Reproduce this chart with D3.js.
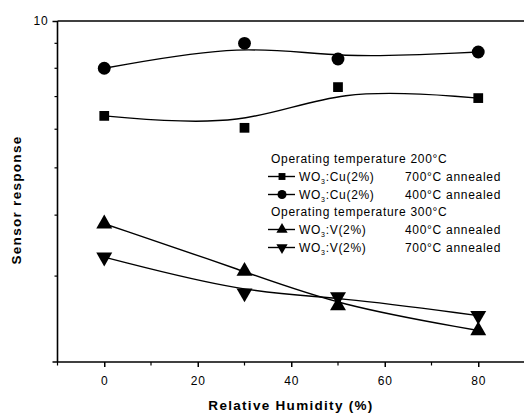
<!DOCTYPE html>
<html><head><meta charset="utf-8">
<script src="https://cdn.jsdelivr.net/npm/d3@7"></script>
<style>body{margin:0;background:#fff}svg{display:block}</style>
</head><body><svg id="c" width="524" height="413"></svg>
<script>
const humidity = [0, 30, 50, 80];
const cu700 = [6.39, 6.04, 7.32, 6.95];
const cu400 = [8.0, 9.0, 8.36, 8.64];
const v400 = [3.84, 3.07, 2.61, 2.32];
const v700 = [3.28, 2.77, 2.72, 2.49];
const xTicks = [0, 20, 40, 60, 80];
const xMinor = [-10, 10, 30, 50, 70, 90];
const yMinor = [3, 4, 5, 6, 7, 8, 9];

const svg = d3.select("#c");
const font = "'Liberation Sans', Arial, sans-serif";
const x = d3.scaleLinear().domain([-10, 90]).range([57.5, 525]);
const y = d3.scaleLog().domain([2, 10]).range([362, 21]);

// frame
svg.append("line").attr("x1", x(-10)).attr("x2", x(90)).attr("y1", y(10)).attr("y2", y(10)).attr("stroke", "#000").attr("stroke-width", 1.5);
svg.append("line").attr("x1", x(-10)).attr("x2", x(90)).attr("y1", y(2)).attr("y2", y(2)).attr("stroke", "#000").attr("stroke-width", 1.6);
svg.append("line").attr("x1", x(-10)).attr("x2", x(-10)).attr("y1", y(2)).attr("y2", y(10)).attr("stroke", "#000").attr("stroke-width", 1.6);

// x axis
const xa = svg.append("g").attr("transform", `translate(0,${y(2)})`)
  .call(d3.axisBottom(x).tickValues(xTicks).tickSize(5).tickSizeOuter(0).tickPadding(9));
xa.select(".domain").remove();
xa.selectAll("text").attr("font-family", font).attr("font-size", 12).attr("letter-spacing", 0.8).attr("fill", "#000");
xa.selectAll("line").attr("stroke-width", 1.5);
svg.append("g").selectAll("line").data(xMinor).join("line")
  .attr("x1", d => x(d)).attr("x2", d => x(d)).attr("y1", y(2)).attr("y2", y(2) + 3.5)
  .attr("stroke", "#000").attr("stroke-width", 1.2);

// y axis
const ya = svg.append("g").attr("transform", `translate(${x(-10)},0)`)
  .call(d3.axisLeft(y).tickValues([10]).tickFormat(d3.format("d")).tickSize(5).tickSizeOuter(0).tickPadding(4));
ya.select(".domain").remove();
ya.selectAll("text").attr("font-family", font).attr("font-size", 12).attr("letter-spacing", 0.8).attr("fill", "#000");
ya.selectAll("line").attr("stroke-width", 1.5);
svg.append("g").selectAll("line").data(yMinor).join("line")
  .attr("x1", x(-10) - 3).attr("x2", x(-10)).attr("y1", d => y(d)).attr("y2", d => y(d))
  .attr("stroke", "#000").attr("stroke-width", 1.2);
svg.append("line").attr("x1", x(-10) - 5).attr("x2", x(-10)).attr("y1", y(2)).attr("y2", y(2)).attr("stroke", "#000").attr("stroke-width", 1.5);

// titles
svg.append("text").attr("x", 291).attr("y", 410).attr("text-anchor", "middle")
  .attr("font-family", font).attr("font-weight", "bold").attr("font-size", 13.5).attr("letter-spacing", 1.3)
  .text("Relative Humidity (%)");
svg.append("text").attr("transform", `translate(21,200) rotate(-90)`).attr("text-anchor", "middle")
  .attr("font-family", font).attr("font-weight", "bold").attr("font-size", 13.5).attr("letter-spacing", 1.3)
  .text("Sensor response");

const series = [
  {vals: cu700, sym: d3.symbolSquare, size: 95, rot: 0},
  {vals: cu400, sym: d3.symbolCircle, size: 130, rot: 0},
  {vals: v400, sym: d3.symbolTriangle, size: 110, rot: 0},
  {vals: v700, sym: d3.symbolTriangle, size: 110, rot: 180}
];
series.forEach(s => {
  const pts = humidity.map((h, i) => [h, s.vals[i]]);
  svg.append("path").attr("d", d3.line().x(d => x(d[0])).y(d => y(d[1])).curve(d3.curveBasis)(pts))
    .attr("fill", "none").attr("stroke", "#000").attr("stroke-width", 1.4);
  svg.append("g").selectAll("path").data(pts).join("path")
    .attr("transform", d => `translate(${x(d[0])},${y(d[1])}) rotate(${s.rot})`)
    .attr("d", d3.symbol().type(s.sym).size(s.size)).attr("fill", "#000");
});

// legend
const lg = svg.append("g").attr("font-family", font).attr("font-size", 12).attr("letter-spacing", 0.7).attr("fill", "#000");
const rows = [
  {t: "head", label: "Operating temperature 200°C", yy: 163},
  {t: 0, mat: "Cu(2%)", ann: "700°C annealed", yy: 181},
  {t: 1, mat: "Cu(2%)", ann: "400°C annealed", yy: 199},
  {t: "head", label: "Operating temperature 300°C", yy: 216},
  {t: 2, mat: "V(2%)", ann: "400°C annealed", yy: 234},
  {t: 3, mat: "V(2%)", ann: "700°C annealed", yy: 252}
];
rows.forEach(r => {
  if (r.t === "head") {
    lg.append("text").attr("x", 271).attr("y", r.yy).text(r.label);
  } else {
    const s = series[r.t];
    const cy = r.yy - 4.5;
    lg.append("line").attr("x1", 268).attr("x2", 295).attr("y1", cy).attr("y2", cy).attr("stroke", "#000").attr("stroke-width", 1.4);
    lg.append("path").attr("transform", `translate(282,${cy}) rotate(${s.rot})`)
      .attr("d", d3.symbol().type(s.sym).size(s.size * 0.5)).attr("fill", "#000");
    const t = lg.append("text").attr("x", 299).attr("y", r.yy);
    t.append("tspan").text("WO");
    t.append("tspan").attr("font-size", 7).attr("dy", 3).text("3");
    t.append("tspan").attr("dy", -3).text(":" + r.mat);
    lg.append("text").attr("x", 405).attr("y", r.yy).text(r.ann);
  }
});
</script></body></html>
